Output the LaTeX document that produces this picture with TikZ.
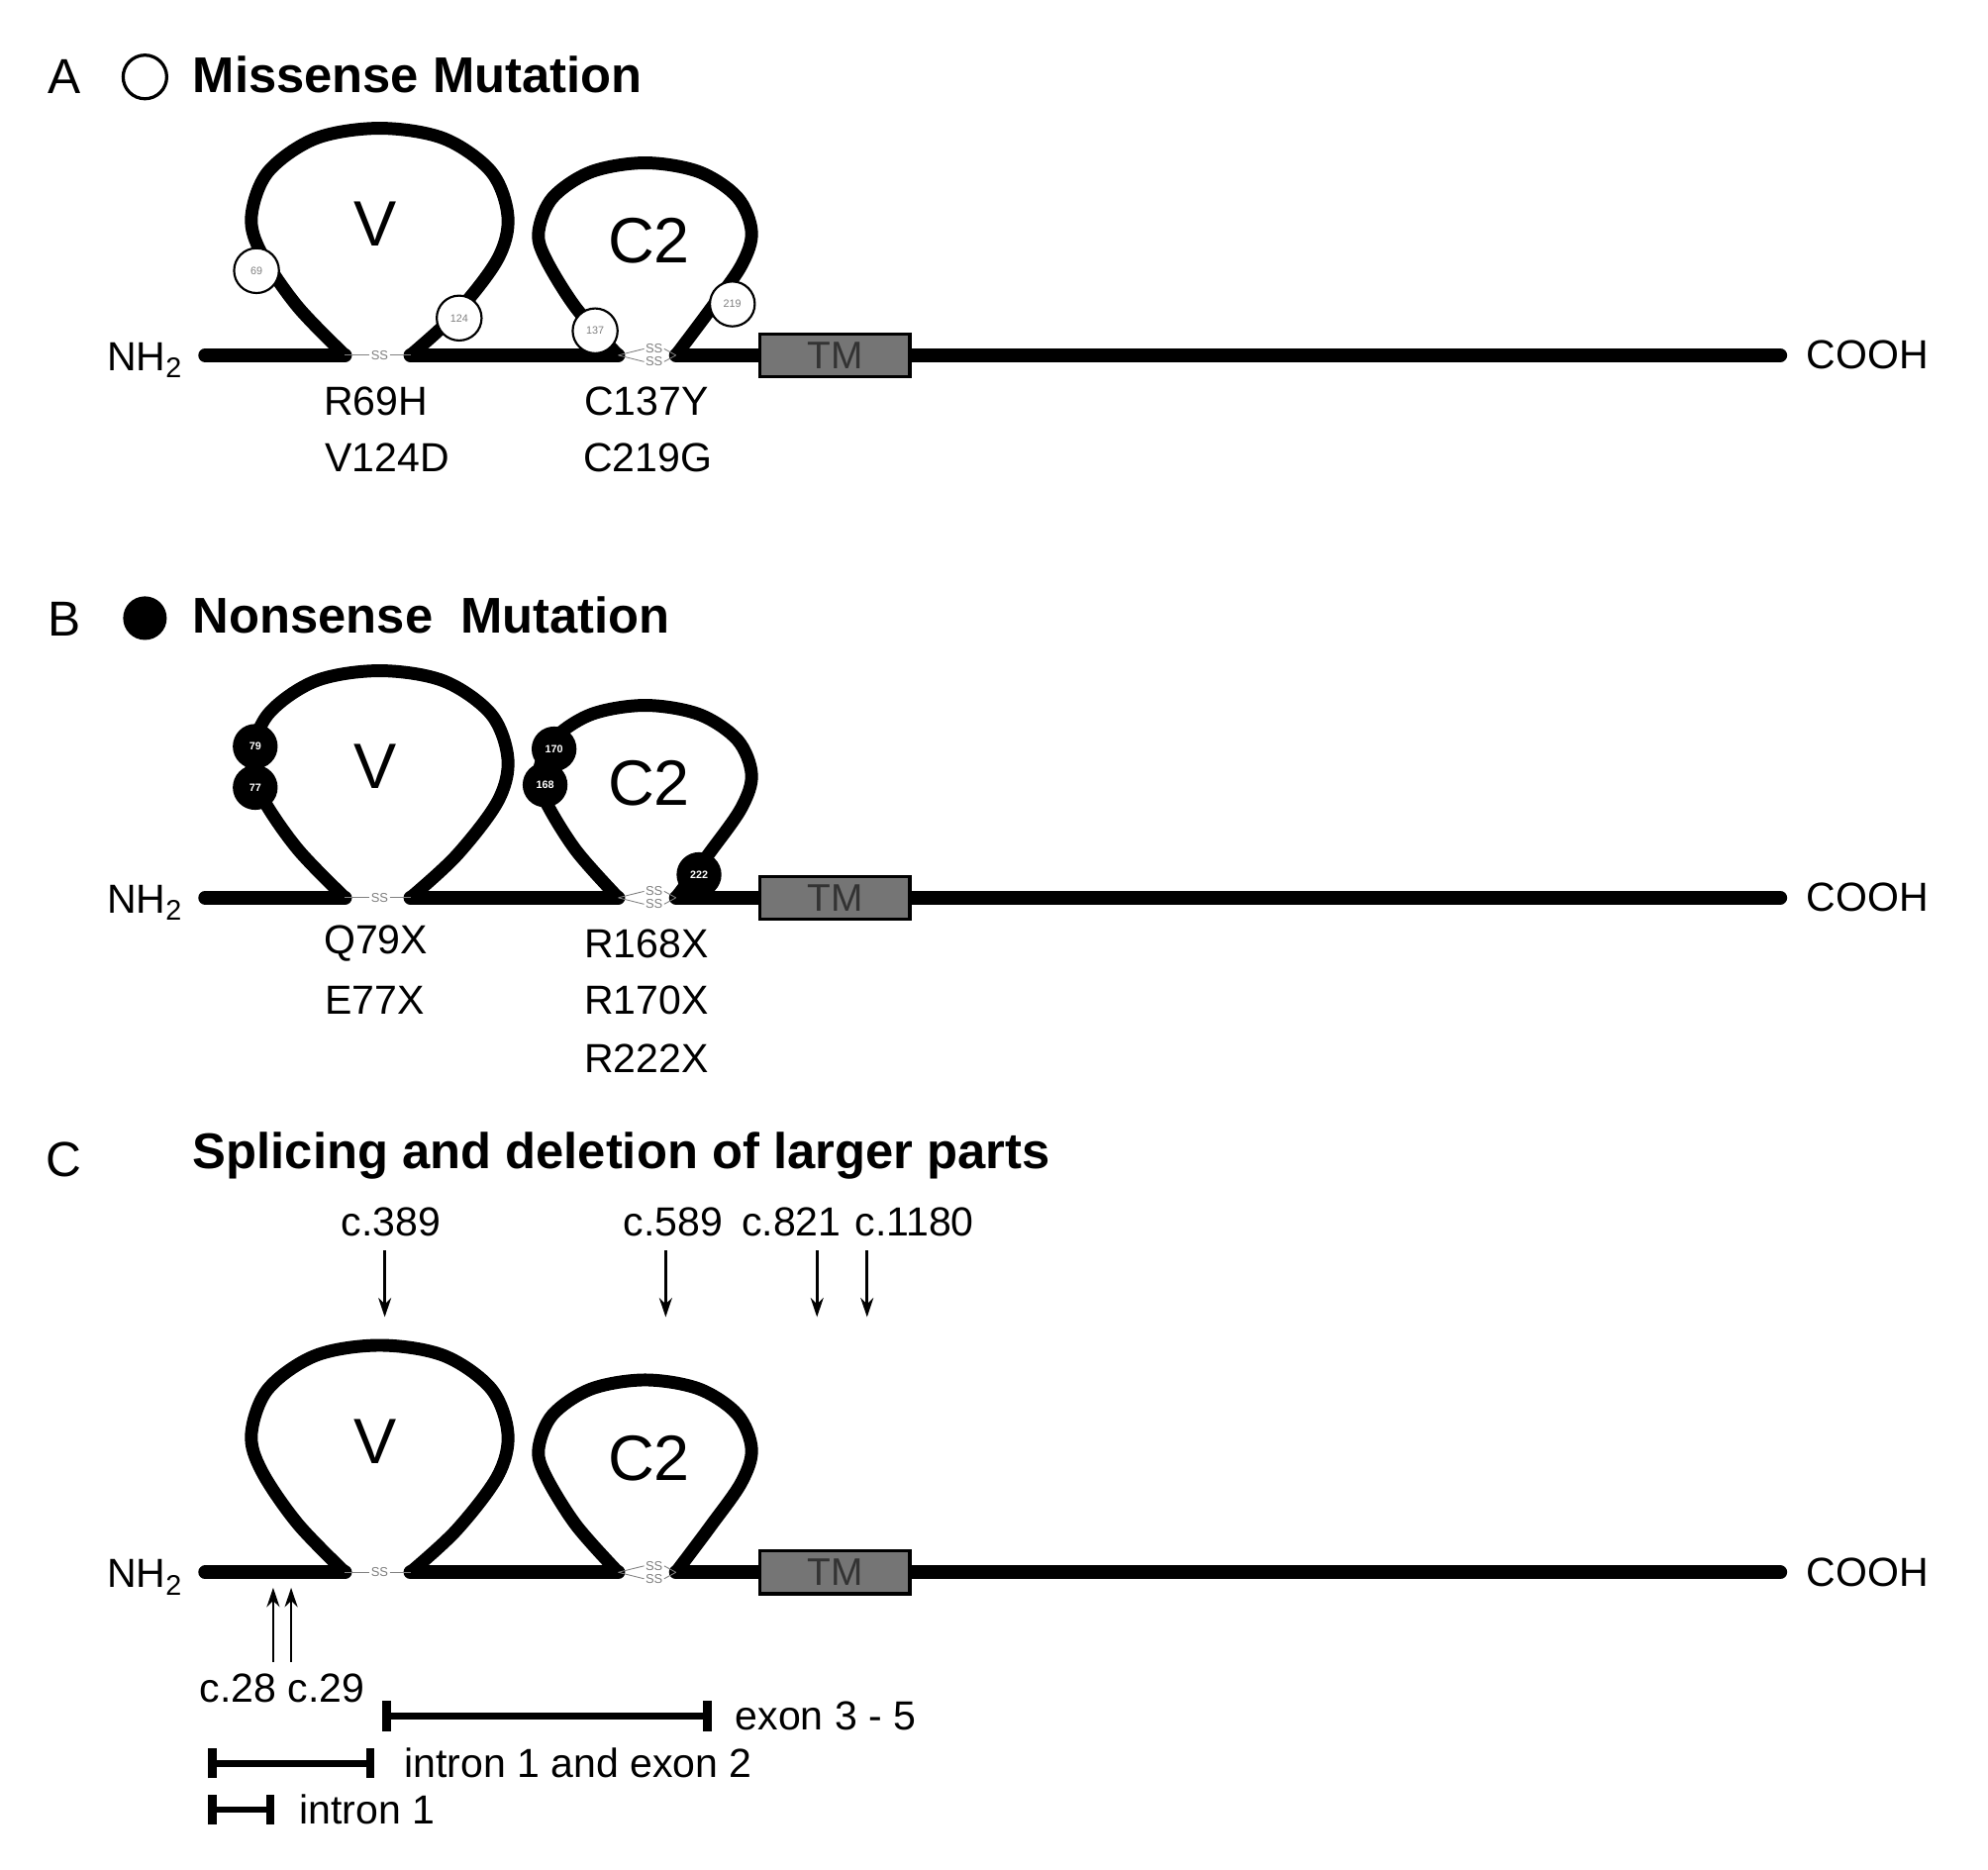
\documentclass[tikz,border=0pt]{standalone}
\usepackage{fontspec}
\setmainfont{Liberation Sans}
\usetikzlibrary{arrows.meta}
\newcommand\drawprotein[1]{%
  \coordinate (#1l) at (160,0); \coordinate (#1r) at (1388,0);
  \coordinate (#1va) at (269,0); \coordinate (#1vb) at (320,0);
  \coordinate (#1ca) at (482,0); \coordinate (#1cb) at (527,0);
  \draw[bb] (#1l) -- (#1va);
  \draw[bb] (#1vb) -- (#1ca);
  \draw[bb] (#1cb) -- (#1r);
  \draw[loop] plot[smooth,tension=0.55] coordinates {(269,0) (232,-38) (204,-79) (196,-108) (209,-143) (246,-169) (296,-177) (346,-169) (383,-143) (396,-108) (388,-75) (356,-33) (320,0)};
  \draw[loop] plot[smooth,tension=0.55] coordinates {(482,0) (449,-37) (425,-76) (420,-97) (431,-123) (461,-143) (503,-150) (545,-143) (575,-123) (586,-96) (578,-70) (554,-36) (527,0)};
  \node[ssl] (#1s1) at (296,0) {SS};
  \draw[thin,gray] (#1va) -- (#1s1.west) (#1s1.east) -- (#1vb);
  \node[ssl] (#1s2) at (510,-5) {SS};
  \node[ssl] (#1s3) at (510,5) {SS};
  \draw[thin,gray] (#1ca) -- (#1s2.west) (#1ca) -- (#1s3.west) (#1s2.east) -- (#1cb) (#1s3.east) -- (#1cb);
  \node[tm] (#1tm) at (651,0) {TM};
  \node[lab] (#1nh) at (113,4) {NH\textsubscript{2}};
  \node[lab] (#1co) at (1456,0) {COOH};
  \node[dom] (#1V) at (293,-102) {V};
  \node[dom] (#1C) at (506,-89) {C2};
}
\begin{document}
\begin{tikzpicture}[x=0.6pt,y=-0.6pt,
  bb/.style={line width=6.5pt,line cap=round},
  loop/.style={line width=6pt},
  ssl/.style={font=\fontsize{6}{6}\selectfont,text=gray,inner sep=0.5pt},
  tm/.style={draw=black,line width=1.5pt,fill=gray!80!black!90,minimum width=70pt,minimum height=20pt,inner sep=0pt,font=\fontsize{18}{18}\selectfont,text=black!80},
  lab/.style={font=\fontsize{19}{20}\selectfont,inner sep=0pt},
  dom/.style={font=\fontsize{30}{32}\selectfont,inner sep=0pt},
  head/.style={font=\fontsize{23.5}{25}\selectfont\bfseries,anchor=west,inner sep=0pt},
  letter/.style={font=\fontsize{23}{24}\selectfont,inner sep=0pt},
  wc/.style={circle,draw=black,line width=1pt,fill=white,minimum size=21pt,inner sep=0pt,font=\fontsize{5}{5}\selectfont,text=gray},
  bc/.style={circle,fill=black,minimum size=21pt,inner sep=0pt,font=\fontsize{5}{5}\selectfont\bfseries,text=white},
  arr/.style={line width=1.3pt,-{Stealth[length=9pt,width=6pt]}},
  bar/.style={line width=3.2pt,{Bar[width=14pt,line width=4pt]}-{Bar[width=14pt,line width=4pt]}},
  side/.style={font=\fontsize{19}{20}\selectfont,anchor=west,inner sep=0pt}]
\path[use as bounding box,fill=white] (0,0) rectangle (1550,1458);
% Panel A
\node[letter] (la) at (50,60) {A};
\draw[line width=1.5pt] (113,60) circle (17);
\node[head] (ha) at (150,58) {Missense Mutation};
\begin{scope}[shift={(0,277)}]
\drawprotein{a}
\node[wc] (c69) at (200,-66) {69};
\node[wc] (c124) at (358,-29) {124};
\node[wc] (c137) at (464,-19) {137};
\node[wc] (c219) at (571,-40) {219};
\end{scope}
\node[lab] at (293,313) {R69H};
\node[lab] at (302,357) {V124D};
\node[lab] at (504,313) {C137Y};
\node[lab] at (505,357) {C219G};
% Panel B
\node[letter] (lb) at (50,483) {B};
\fill (113,482) circle (17);
\node[head] (hb) at (150,480) {Nonsense\ \ Mutation};
\begin{scope}[shift={(0,700)}]
\drawprotein{b}
\node[bc] (c79) at (199,-118) {79};
\node[bc] (c77) at (199,-86) {77};
\node[bc] (c170) at (432,-116) {170};
\node[bc] (c168) at (425,-88) {168};
\node[bc] (c222) at (545,-18) {222};
\end{scope}
\node[lab] at (293,736) {Q79X};
\node[lab] at (292,780) {E77X};
\node[lab] at (504,736) {R168X};
\node[lab] at (504,780) {R170X};
\node[lab] at (504,825) {R222X};
% Panel C
\node[letter] (lc) at (50,904) {C};
\node[head] (hc) at (150,901) {Splicing and deletion of larger parts};
\begin{scope}[shift={(0,1226)}]
\drawprotein{c}
\end{scope}
\node[lab] (t389) at (305,953) {c.389};
\node[lab] (t589) at (525,953) {c.589};
\node[lab] (t821) at (617,953) {c.821};
\node[lab] (t1180) at (713,953) {c.1180};
\coordinate (d1) at (300,1027); \coordinate (d2) at (519,1027);
\coordinate (d3) at (637,1027); \coordinate (d4) at (676,1027);
\draw[arr] (300,975) -- (d1);
\draw[arr] (519,975) -- (d2);
\draw[arr] (637,975) -- (d3);
\draw[arr] (676,975) -- (d4);
\node[lab] (t28) at (220,1316) {c.28 c.29};
\coordinate (u1) at (213,1238); \coordinate (u2) at (227,1238);
\draw[arr] (213,1296) -- (u1);
\draw[arr] (227,1296) -- (u2);
\coordinate (e1) at (298,1338); \coordinate (e2) at (555,1338);
\draw[bar] (e1) -- (e2);
\node[side] at (573,1338) {exon 3 - 5};
\coordinate (i1) at (162,1375); \coordinate (i2) at (292,1375);
\draw[bar] (i1) -- (i2);
\node[side] at (315,1375) {intron 1 and exon 2};
\coordinate (j1) at (162,1411); \coordinate (j2) at (214,1411);
\draw[bar] (j1) -- (j2);
\node[side] at (233,1411) {intron 1};
\end{tikzpicture}
\end{document}
